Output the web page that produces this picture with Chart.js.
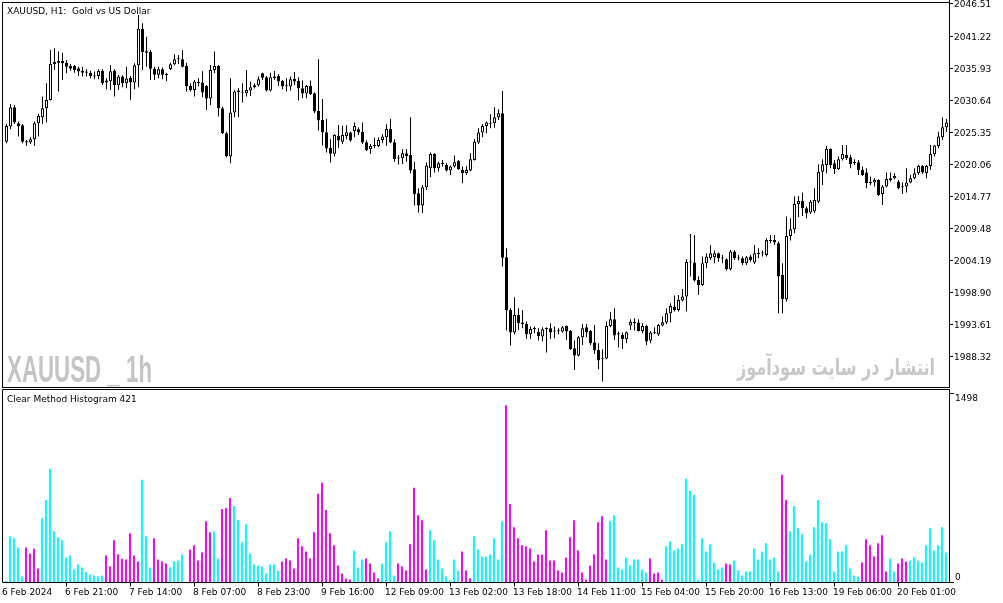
<!DOCTYPE html>
<html>
<head>
<meta charset="utf-8">
<script src="https://cdn.jsdelivr.net/npm/chart.js@4.4.1/dist/chart.umd.min.js"></script>
<style>
    html, body { margin: 0; padding: 0; background: #fff; }
    #wrap { position: relative; width: 1003px; height: 603px; overflow: hidden; }
    canvas { position: absolute; left: 0; }
    #price { top: 0; }
    #hist { top: 388px; }
</style>
</head>
<body>
<div id="wrap">
    <canvas id="price" width="1003" height="388"></canvas>
    <canvas id="hist" width="1003" height="215"></canvas>
</div>
<script>
// XAUUSD H1, 6 Feb 2024 06:00 .. 20 Feb 2024, one entry per bar
const openPrices = [
    2023.71, 2026.19, 2029.38, 2026.74, 2026.41, 2023.77, 2023.55, 2024.10, 2026.74, 2027.73,
    2029.22, 2030.59, 2036.53, 2037.03, 2037.03, 2036.75, 2036.20, 2036.20, 2035.82, 2035.43,
    2035.10, 2035.10, 2034.44, 2034.55, 2035.43, 2033.78, 2033.67, 2035.43, 2033.01, 2034.44,
    2033.34, 2034.22, 2033.45, 2036.31, 2042.36, 2038.62, 2038.51, 2035.76, 2034.77, 2035.65,
    2034.88, 2035.71, 2036.47, 2037.30, 2037.30, 2036.20, 2032.90, 2032.24, 2033.51, 2033.45,
    2032.90, 2030.81, 2035.54, 2036.20, 2029.22, 2025.09, 2021.24, 2028.50, 2031.91, 2031.91,
    2031.69, 2032.13, 2032.68, 2033.01, 2034.99, 2034.33, 2032.13, 2034.44, 2034.55, 2033.73,
    2032.85, 2032.79, 2034.05, 2033.73, 2032.52, 2031.64, 2032.90, 2031.69, 2028.78, 2027.29,
    2025.26, 2022.67, 2021.73, 2024.70, 2023.71, 2024.65, 2025.20, 2025.48, 2025.75, 2025.31,
    2023.60, 2022.45, 2023.00, 2023.00, 2023.99, 2024.43, 2025.81, 2023.60, 2020.92, 2020.97,
    2021.79, 2021.52, 2019.15, 2015.19, 2013.16, 2016.18, 2019.32, 2021.68, 2019.32, 2020.03,
    2019.87, 2018.93, 2019.59, 2020.52, 2019.04, 2018.49, 2018.93, 2020.69, 2023.55, 2025.20,
    2026.30, 2026.79, 2026.74, 2027.73, 2028.39, 2004.63, 1995.94, 1992.20, 1995.12, 1993.85,
    1993.63, 1991.92, 1992.97, 1992.31, 1991.54, 1992.81, 1992.92, 1992.36, 1992.42, 1992.36,
    1993.30, 1992.47, 1989.62, 1988.41, 1991.43, 1993.08, 1992.47, 1990.55, 1989.34, 1987.80,
    1987.91, 1993.30, 1994.40, 1991.87, 1991.81, 1991.10, 1993.35, 1993.80, 1993.85, 1992.47,
    1993.30, 1990.88, 1992.09, 1991.92, 1993.35, 1993.85, 1995.39, 1996.49, 1995.94, 1997.48,
    1998.14, 2003.75, 2003.75, 2000.89, 2000.06, 2003.64, 2004.46, 2004.63, 2005.29, 2004.52,
    2004.30, 2002.65, 2005.57, 2004.52, 2004.46, 2003.64, 2004.74, 2003.75, 2005.18, 2005.24,
    2005.02, 2007.27, 2007.49, 2006.94, 2001.71, 1997.70, 2008.15, 2009.25, 2013.43, 2013.92,
    2012.71, 2012.00, 2012.17, 2013.81, 2018.76, 2019.86, 2022.50, 2020.14, 2019.15, 2020.80,
    2021.52, 2021.13, 2020.36, 2020.30, 2019.04, 2018.60, 2017.06, 2016.95, 2017.39, 2015.08,
    2016.29, 2017.39, 2017.67, 2017.11, 2016.18, 2016.29, 2016.95, 2017.67, 2018.49, 2019.70,
    2018.49, 2019.70, 2021.63, 2023.00, 2024.43, 2026.08
]
const highPrices = [
    2026.63, 2029.93, 2029.76, 2027.02, 2026.63, 2023.99, 2024.43, 2027.02, 2028.28, 2031.14,
    2033.34, 2038.84, 2039.12, 2038.57, 2038.40, 2037.19, 2036.53, 2036.36, 2036.09, 2036.09,
    2035.65, 2035.43, 2035.27, 2035.65, 2035.65, 2034.16, 2036.36, 2035.65, 2034.72, 2034.66,
    2036.09, 2034.55, 2036.64, 2044.62, 2043.24, 2041.04, 2038.84, 2036.09, 2036.09, 2035.93,
    2035.10, 2036.75, 2038.13, 2038.02, 2038.84, 2036.75, 2033.34, 2033.89, 2034.16, 2035.32,
    2033.07, 2036.36, 2038.57, 2036.36, 2029.49, 2025.36, 2034.16, 2032.24, 2032.52, 2033.34,
    2035.54, 2033.62, 2033.34, 2034.44, 2035.10, 2034.55, 2035.10, 2035.38, 2034.88, 2033.89,
    2034.16, 2034.44, 2035.21, 2034.33, 2033.78, 2033.07, 2033.78, 2031.80, 2037.30, 2030.76,
    2027.45, 2024.10, 2024.92, 2026.46, 2026.35, 2026.41, 2025.36, 2026.85, 2026.08, 2026.85,
    2023.93, 2023.33, 2024.37, 2024.43, 2024.92, 2026.57, 2027.45, 2024.10, 2021.52, 2022.45,
    2022.51, 2027.73, 2020.41, 2016.01, 2016.57, 2020.25, 2021.90, 2021.79, 2020.41, 2020.69,
    2020.14, 2019.76, 2021.41, 2020.69, 2019.59, 2019.70, 2021.79, 2024.10, 2025.92, 2026.57,
    2027.02, 2028.22, 2029.38, 2029.05, 2032.08, 2006.12, 1996.21, 1998.03, 1996.21, 1995.94,
    1994.02, 1993.19, 1993.19, 1992.92, 1993.08, 1993.08, 1993.74, 1993.19, 1992.92, 1993.30,
    1993.35, 1992.64, 1990.88, 1991.65, 1993.63, 1993.63, 1992.64, 1993.46, 1990.44, 1989.45,
    1994.02, 1995.56, 1996.21, 1992.36, 1992.20, 1992.36, 1994.40, 1994.57, 1994.40, 1993.74,
    1993.46, 1992.47, 1993.08, 1993.63, 1994.84, 1996.21, 1997.04, 1998.30, 1998.41, 1999.40,
    2004.30, 2008.48, 2008.32, 2001.44, 2004.74, 2005.29, 2006.67, 2005.73, 2005.40, 2005.02,
    2004.46, 2005.84, 2005.84, 2005.02, 2004.74, 2004.85, 2005.02, 2006.67, 2006.12, 2005.73,
    2007.77, 2008.32, 2008.32, 2007.22, 2003.64, 2011.34, 2011.06, 2014.64, 2014.75, 2015.30,
    2012.99, 2014.09, 2016.02, 2019.97, 2020.80, 2023.00, 2022.62, 2020.69, 2021.24, 2023.17,
    2023.17, 2021.52, 2020.80, 2020.69, 2019.59, 2019.31, 2017.94, 2017.67, 2017.50, 2016.57,
    2018.60, 2018.60, 2018.49, 2017.39, 2016.95, 2019.31, 2018.22, 2019.31, 2019.86, 2019.86,
    2019.86, 2023.17, 2023.17, 2025.36, 2027.73, 2027.45
]
const lowPrices = [
    2023.44, 2025.75, 2026.63, 2024.54, 2023.44, 2023.00, 2023.33, 2023.00, 2024.54, 2026.63,
    2026.85, 2030.48, 2035.54, 2031.97, 2033.89, 2034.99, 2035.43, 2035.10, 2034.55, 2034.44,
    2034.44, 2034.16, 2034.00, 2034.00, 2033.07, 2032.35, 2032.24, 2031.14, 2032.24, 2032.68,
    2032.52, 2030.59, 2032.35, 2032.68, 2035.54, 2036.09, 2033.89, 2033.89, 2034.16, 2034.00,
    2033.73, 2035.54, 2036.31, 2036.53, 2035.93, 2031.97, 2031.97, 2031.14, 2032.79, 2031.03,
    2028.94, 2029.76, 2034.99, 2027.84, 2024.98, 2021.13, 2020.14, 2027.73, 2027.73, 2030.15,
    2031.14, 2031.25, 2032.46, 2032.79, 2033.89, 2031.97, 2031.97, 2033.89, 2032.90, 2032.35,
    2031.97, 2032.13, 2033.07, 2030.48, 2030.86, 2030.86, 2031.42, 2028.39, 2025.53, 2023.06,
    2021.90, 2020.25, 2021.24, 2022.67, 2023.33, 2024.10, 2023.71, 2024.43, 2024.81, 2023.33,
    2022.18, 2021.68, 2022.62, 2022.78, 2023.44, 2023.00, 2023.44, 2020.41, 2019.92, 2020.03,
    2020.41, 2018.49, 2013.16, 2012.00, 2011.89, 2015.74, 2017.83, 2018.60, 2018.77, 2019.59,
    2018.77, 2018.22, 2019.43, 2019.04, 2016.84, 2018.22, 2018.82, 2020.58, 2023.33, 2024.43,
    2025.09, 2025.92, 2026.02, 2027.29, 2003.09, 1992.53, 1990.06, 1991.87, 1992.64, 1992.92,
    1991.15, 1991.15, 1992.09, 1990.88, 1990.71, 1988.90, 1991.15, 1991.26, 1991.92, 1992.20,
    1990.99, 1989.34, 1986.04, 1988.24, 1990.16, 1991.43, 1990.16, 1988.68, 1986.15, 1984.12,
    1987.80, 1993.08, 1990.99, 1989.73, 1989.51, 1990.44, 1992.64, 1992.53, 1992.36, 1992.09,
    1990.16, 1990.44, 1991.98, 1991.65, 1993.19, 1993.63, 1993.85, 1995.67, 1995.67, 1997.31,
    1995.67, 2001.44, 2000.61, 1998.41, 1999.90, 2002.81, 2004.19, 2003.64, 2003.91, 2003.64,
    2002.43, 2002.43, 2004.19, 2004.08, 2003.36, 2003.36, 2003.91, 2003.53, 2004.46, 2004.74,
    2004.74, 2006.94, 2006.67, 1995.39, 1995.39, 1997.31, 2007.38, 2008.59, 2011.23, 2011.45,
    2011.06, 2011.78, 2011.89, 2013.60, 2016.57, 2018.49, 2019.32, 2018.38, 2019.04, 2020.58,
    2020.69, 2019.32, 2019.86, 2018.22, 2018.05, 2016.01, 2016.57, 2016.29, 2014.75, 2013.27,
    2016.18, 2017.11, 2017.50, 2015.85, 2015.08, 2015.30, 2016.84, 2017.50, 2018.22, 2018.38,
    2017.67, 2019.04, 2021.24, 2022.62, 2023.99, 2025.36
]
const closePrices = [
    2026.30, 2029.38, 2026.85, 2026.30, 2023.71, 2023.55, 2024.10, 2026.74, 2027.95, 2029.22,
    2030.59, 2036.53, 2036.86, 2036.75, 2036.64, 2036.09, 2035.76, 2035.54, 2035.27, 2035.10,
    2035.27, 2034.55, 2034.55, 2035.43, 2033.34, 2033.45, 2035.32, 2033.01, 2034.44, 2033.34,
    2034.11, 2033.45, 2036.31, 2042.36, 2038.51, 2038.40, 2035.76, 2034.77, 2035.65, 2034.77,
    2034.72, 2036.47, 2037.30, 2037.36, 2036.09, 2032.90, 2032.24, 2033.62, 2033.40, 2031.80,
    2030.81, 2035.54, 2036.20, 2029.22, 2025.09, 2021.35, 2028.50, 2031.97, 2032.13, 2031.80,
    2032.24, 2032.68, 2033.01, 2034.00, 2034.27, 2032.13, 2034.33, 2034.22, 2033.62, 2032.79,
    2032.96, 2034.00, 2033.62, 2032.52, 2031.64, 2032.90, 2031.58, 2028.67, 2027.18, 2025.20,
    2022.56, 2021.73, 2024.81, 2023.88, 2024.81, 2025.26, 2023.88, 2026.30, 2025.20, 2023.55,
    2022.34, 2023.00, 2023.17, 2023.99, 2024.54, 2025.81, 2023.55, 2020.86, 2021.08, 2021.79,
    2021.35, 2018.93, 2015.02, 2013.16, 2016.18, 2019.76, 2021.68, 2019.32, 2020.14, 2020.09,
    2018.93, 2019.59, 2020.30, 2019.15, 2018.49, 2019.04, 2020.80, 2023.71, 2025.20, 2026.30,
    2026.85, 2026.68, 2027.73, 2028.39, 2004.57, 1995.83, 1992.20, 1995.12, 1993.74, 1993.63,
    1991.92, 1992.81, 1992.81, 1991.65, 1992.75, 1992.97, 1992.20, 1992.53, 1992.59, 1993.08,
    1992.36, 1989.51, 1988.41, 1991.43, 1992.92, 1992.20, 1990.44, 1989.23, 1987.58, 1987.97,
    1993.30, 1994.40, 1991.71, 1992.09, 1991.15, 1992.25, 1993.96, 1993.96, 1992.47, 1993.30,
    1990.71, 1992.20, 1992.25, 1993.46, 1993.90, 1995.39, 1996.60, 1995.94, 1997.59, 1998.14,
    2003.86, 2003.91, 2000.78, 2000.06, 2003.64, 2004.74, 2005.29, 2005.29, 2004.46, 2004.41,
    2002.65, 2005.57, 2004.46, 2004.41, 2003.64, 2004.63, 2004.19, 2005.29, 2005.29, 2005.35,
    2007.49, 2007.49, 2007.05, 2001.44, 1997.70, 2008.15, 2009.25, 2013.43, 2013.92, 2012.71,
    2011.89, 2013.81, 2014.09, 2018.76, 2019.97, 2022.50, 2019.86, 2019.15, 2020.80, 2021.68,
    2020.97, 2020.03, 2020.20, 2019.04, 2018.22, 2016.84, 2016.90, 2017.39, 2014.92, 2016.29,
    2017.56, 2017.67, 2018.05, 2016.02, 2016.35, 2016.95, 2017.67, 2018.49, 2019.70, 2018.60,
    2019.70, 2021.68, 2023.06, 2024.54, 2026.08, 2026.85
]

// Clear Method Histogram 421 - value and colour (1 = up / aqua, 0 = down / magenta)
const histValues = [
    8, 363, 347, 275, 43, 275, 227, 264, 107, 507,
    651, 900, 403, 355, 331, 195, 211, 99, 139, 115,
    80, 59, 51, 43, 51, 211, 123, 331, 219, 184,
    179, 387, 211, 163, 812, 363, 115, 347, 179, 163,
    147, 115, 163, 171, 219, 0, 259, 291, 171, 235,
    483, 395, 403, 187, 579, 587, 667, 603, 491, 315,
    459, 227, 139, 131, 123, 67, 139, 139, 91, 163,
    187, 171, 107, 347, 283, 243, 187, 395, 700, 788,
    571, 387, 291, 131, 67, 27, 19, 251, 115, 179,
    187, 147, 75, 27, 147, 315, 403, 51, 147, 123,
    91, 299, 748, 531, 491, 99, 411, 331, 179, 107,
    43, 11, 179, 91, 243, 91, 27, 363, 259, 203,
    203, 219, 347, 179, 483, 1404, 619, 435, 347, 291,
    283, 267, 163, 219, 219, 411, 171, 171, 91, 75,
    195, 355, 491, 251, 75, 19, 131, 219, 475, 523,
    179, 483, 531, 115, 99, 195, 131, 179, 179, 99,
    75, 187, 67, 75, 19, 283, 323, 251, 267, 299,
    820, 724, 692, 19, 347, 243, 299, 155, 99, 115,
    147, 139, 171, 91, 51, 83, 83, 267, 179, 243,
    307, 179, 195, 83, 852, 651, 403, 603, 427, 379,
    163, 219, 435, 651, 475, 467, 339, 83, 243, 243,
    291, 107, 51, 43, 155, 339, 291, 203, 307, 371,
    83, 187, 83, 147, 187, 163, 171, 195, 171, 155,
    291, 427, 251, 291, 435, 235
]
const histUp = [
    1, 1, 1, 1, 1, 0, 0, 0, 0, 1,
    1, 1, 1, 1, 1, 1, 1, 1, 1, 1,
    1, 1, 1, 1, 1, 0, 0, 0, 0, 0,
    0, 0, 0, 0, 1, 1, 1, 0, 0, 0,
    0, 1, 1, 1, 1, 1, 0, 0, 0, 0,
    0, 0, 1, 1, 0, 0, 0, 1, 1, 1,
    1, 1, 1, 1, 1, 1, 1, 1, 1, 0,
    0, 0, 0, 0, 0, 0, 0, 0, 0, 0,
    0, 0, 0, 0, 0, 0, 0, 1, 1, 1,
    0, 0, 0, 0, 1, 1, 1, 1, 0, 0,
    0, 0, 0, 0, 0, 0, 1, 1, 1, 1,
    1, 1, 1, 1, 0, 0, 0, 1, 1, 1,
    1, 1, 1, 1, 1, 0, 0, 0, 0, 0,
    0, 0, 0, 0, 0, 0, 0, 0, 0, 0,
    0, 0, 0, 0, 0, 0, 0, 0, 0, 0,
    0, 1, 1, 1, 1, 1, 1, 1, 1, 1,
    1, 0, 0, 0, 0, 1, 1, 1, 1, 1,
    1, 1, 1, 1, 1, 1, 1, 1, 1, 1,
    0, 0, 1, 1, 1, 1, 1, 1, 1, 1,
    1, 1, 1, 1, 0, 0, 1, 1, 1, 1,
    1, 1, 1, 1, 1, 1, 1, 1, 1, 1,
    1, 1, 1, 1, 0, 0, 0, 0, 0, 0,
    0, 1, 1, 0, 0, 0, 1, 1, 1, 1,
    1, 1, 1, 1, 1, 1
]

// time axis labels: bar index -> text
const timeTickIdx = [0, 15, 31, 47, 63, 79, 95, 111, 127, 143, 159, 175, 191, 207, 223]
const timeTickText = ['6 Feb 2024', '6 Feb 21:00', '7 Feb 14:00', '8 Feb 07:00', '8 Feb 23:00',
    '9 Feb 16:00', '12 Feb 09:00', '13 Feb 02:00', '13 Feb 18:00', '14 Feb 11:00',
    '15 Feb 04:00', '15 Feb 20:00', '16 Feb 13:00', '19 Feb 06:00', '20 Feb 01:00']

const priceTicks = [2046.51, 2041.22, 2035.93, 2030.64, 2025.35, 2020.06, 2014.77, 2009.48,
    2004.19, 1998.90, 1993.61, 1988.32]
const histTicks = [1498, 0]

const FONT = '9px "DejaVu Sans"'
const UP_COLOR = '#00ffff'
const DOWN_COLOR = '#ff00ff'

const bars = openPrices.map((_, i) => i)

function line(ctx, x1, y1, x2, y2) {
    ctx.beginPath()
    ctx.moveTo(x1, y1)
    ctx.lineTo(x2, y2)
    ctx.stroke()
}

// frame, price scale and texts of the main window
const priceDecor = {
    id: 'priceDecor',
    beforeDatasetsDraw(chart) {
        const ctx = chart.ctx
        ctx.save()
        ctx.fillStyle = '#c4c4c4'
        ctx.font = 'bold 37px "Liberation Sans"'
        ctx.textBaseline = 'alphabetic'
        let txt = 'XAUUSD _ 1h'
        let w = ctx.measureText(txt).width
        ctx.translate(7, 382)
        ctx.scale(145 / w, 1)
        ctx.fillText(txt, 0, 0)
        ctx.restore()

        ctx.save()
        ctx.fillStyle = '#c8c8c8'
        ctx.font = 'bold 23px "DejaVu Sans"'
        ctx.direction = 'rtl'
        ctx.textAlign = 'right'
        txt = 'انتشار در سایت سودآموز'
        w = ctx.measureText(txt).width
        ctx.translate(935, 375)
        ctx.scale(198 / w, 1)
        ctx.fillText(txt, 0, 0)
        ctx.restore()
    },
    afterDraw(chart) {
        const ctx = chart.ctx
        const y = chart.scales.y
        ctx.save()
        ctx.strokeStyle = '#000'
        ctx.lineWidth = 1
        line(ctx, 2.5, 2.5, 949.5, 2.5)
        line(ctx, 2.5, 2.5, 2.5, 388)
        line(ctx, 949.5, 0, 949.5, 388)
        line(ctx, 2.5, 387.5, 949.5, 387.5)

        ctx.fillStyle = '#000'
        ctx.font = FONT
        ctx.textBaseline = 'alphabetic'
        priceTicks.forEach(p => {
            const py = Math.round(y.getPixelForValue(p)) + 0.5
            line(ctx, 950, py, 953, py)
            ctx.fillText(p.toFixed(2), 954, py + 3)
        })
        ctx.fillText('XAUUSD, H1:  Gold vs US Dollar', 7, 13.5)
        ctx.restore()
    }
}

// frame, scale, time axis and title of the indicator window
const histDecor = {
    id: 'histDecor',
    afterDraw(chart) {
        const ctx = chart.ctx
        const x = chart.scales.x
        const y = chart.scales.y
        ctx.save()
        ctx.strokeStyle = '#000'
        ctx.lineWidth = 1
        line(ctx, 2.5, 1.5, 949.5, 1.5)
        line(ctx, 2.5, 1.5, 2.5, 194.5)
        line(ctx, 949.5, 1, 949.5, 195)
        line(ctx, 2.5, 194.5, 949.5, 194.5)

        ctx.fillStyle = '#000'
        ctx.font = FONT
        ctx.textBaseline = 'alphabetic'
        histTicks.forEach(v => {
            const py = Math.round(y.getPixelForValue(v)) + 0.5
            line(ctx, 950, py, 954, py)
            const base = v > 0 ? py + 7 : py - 2.5
            ctx.fillText(String(v), 955, base)
        })

        timeTickIdx.forEach((i, k) => {
            const px = Math.round(x.getPixelForValue(i))
            if (k > 0) line(ctx, px + 0.5, 195, px + 0.5, 198.5)
            ctx.fillText(timeTickText[k], k > 0 ? px - 1 : 2, 207)
        })
        ctx.fillText('Clear Method Histogram 421', 7, 13.5)
        ctx.restore()
    }
}

new Chart(document.getElementById('price'), {
    type: 'bar',
    data: {
        datasets: [
            {
                data: bars.map(i => ({ x: i, y: [lowPrices[i], highPrices[i]] })),
                backgroundColor: '#000',
                barThickness: 1,
                grouped: false,
                inflateAmount: 0,
                order: 2
            },
            {
                data: bars.map(i => ({
                    x: i,
                    y: [Math.min(openPrices[i], closePrices[i]), Math.max(openPrices[i], closePrices[i])]
                })),
                backgroundColor: bars.map(i => closePrices[i] - openPrices[i] > 0.35 ? '#fff' : '#000'),
                borderColor: '#000',
                borderWidth: 1,
                borderSkipped: false,
                barThickness: 3,
                minBarLength: 1,
                grouped: false,
                inflateAmount: 0,
                order: 1
            }
        ]
    },
    options: {
        responsive: false,
        animation: false,
        devicePixelRatio: 1,
        layout: { padding: { left: 3, top: 3, right: 54, bottom: 1 } },
        plugins: { legend: { display: false }, tooltip: { enabled: false } },
        scales: {
            x: { type: 'linear', offset: false, min: -0.875, max: 235.625, display: false },
            y: { min: 1983.22, max: 2046.59, display: false }
        }
    },
    plugins: [priceDecor]
})

new Chart(document.getElementById('hist'), {
    type: 'bar',
    data: {
        datasets: [{
            data: bars.map(i => ({ x: i, y: histValues[i] })),
            backgroundColor: bars.map(i => histUp[i] ? UP_COLOR : DOWN_COLOR),
            barThickness: 2,
            inflateAmount: 0,
            borderWidth: 0
        }]
    },
    options: {
        responsive: false,
        animation: false,
        devicePixelRatio: 1,
        layout: { padding: { left: 3, top: 2, right: 54, bottom: 21 } },
        plugins: { legend: { display: false }, tooltip: { enabled: false } },
        scales: {
            x: { type: 'linear', offset: false, min: -0.75, max: 235.75, display: false },
            y: { min: 0, max: 1525, display: false }
        }
    },
    plugins: [histDecor]
})
</script>
</body>
</html>
